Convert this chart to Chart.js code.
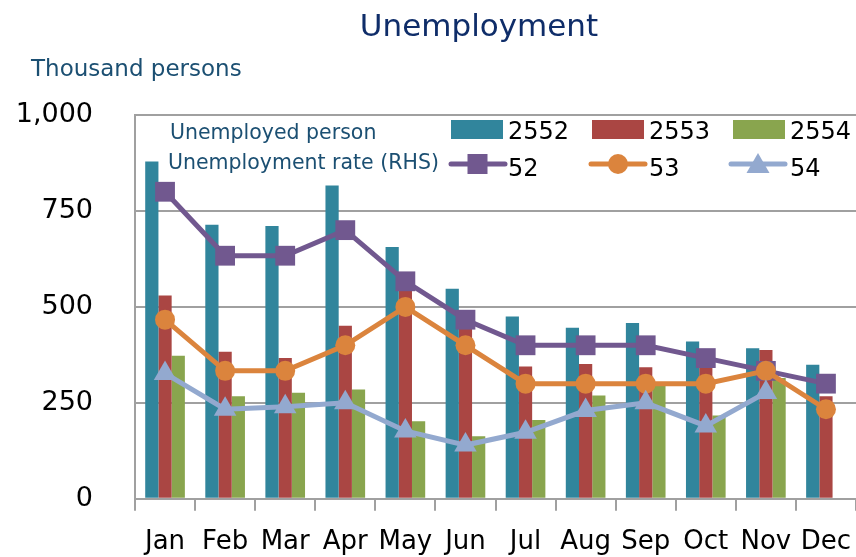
<!DOCTYPE html>
<html>
<head>
<meta charset="utf-8">
<script src="https://cdn.jsdelivr.net/npm/chart.js@4"></script>
<style>
  html, body { margin: 0; padding: 0; background: #fff; }
  #wrap { position: relative; width: 856px; height: 557px; overflow: hidden; font-family: 'DejaVu Sans', sans-serif; }
  #wrap canvas { position: absolute; left: 0; top: 0; }
  .txt { position: absolute; line-height: 1; white-space: nowrap; }
  .sw { position: absolute; }
</style>
</head>
<body>
<div id="wrap">
  <canvas id="unempChart" width="856" height="557"></canvas>

  <div class="txt" style="left:479px; top:10px; font-size:31px; color:#0f2d69; transform:translateX(-50%);">Unemployment</div>
  <div class="txt" style="left:31px; top:57px; font-size:23px; color:#1b4f72;">Thousand persons</div>

  <!-- legend, row 1: bars -->
  <div class="txt" style="left:170px; top:122px; font-size:20.5px; color:#1b4f72;">Unemployed person</div>
  <div class="sw" style="left:451px; top:120px; width:52px; height:19px; background:#31859c;"></div>
  <div class="txt" style="left:508px; top:119px; font-size:24px; color:#000;">2552</div>
  <div class="sw" style="left:592px; top:120px; width:52px; height:19px; background:#aa4643;"></div>
  <div class="txt" style="left:649px; top:119px; font-size:24px; color:#000;">2553</div>
  <div class="sw" style="left:733px; top:120px; width:52px; height:19px; background:#89a54e;"></div>
  <div class="txt" style="left:790px; top:119px; font-size:24px; color:#000;">2554</div>

  <!-- legend, row 2: lines -->
  <div class="txt" style="left:168px; top:152px; font-size:20.5px; color:#1b4f72;">Unemployment rate (RHS)</div>
  <svg class="sw" style="left:448px; top:150px;" width="60" height="28">
    <line x1="3" y1="14" x2="57" y2="14" stroke="#71588f" stroke-width="5" stroke-linecap="round"/>
    <rect x="19.5" y="4" width="20" height="20" fill="#71588f"/>
  </svg>
  <div class="txt" style="left:508px; top:156px; font-size:24px; color:#000;">52</div>
  <svg class="sw" style="left:588px; top:150px;" width="60" height="28">
    <line x1="3" y1="14" x2="57" y2="14" stroke="#db843d" stroke-width="5" stroke-linecap="round"/>
    <circle cx="30" cy="14" r="10" fill="#db843d"/>
  </svg>
  <div class="txt" style="left:649px; top:156px; font-size:24px; color:#000;">53</div>
  <svg class="sw" style="left:728px; top:150px;" width="60" height="28">
    <line x1="3" y1="14" x2="57" y2="14" stroke="#93a9cf" stroke-width="5" stroke-linecap="round"/>
    <polygon points="30,3 41.5,23 18.5,23" fill="#93a9cf"/>
  </svg>
  <div class="txt" style="left:790px; top:156px; font-size:24px; color:#000;">54</div>
</div>

<script>
// months on the x axis
var months = ['Jan', 'Feb', 'Mar', 'Apr', 'May', 'Jun', 'Jul', 'Aug', 'Sep', 'Oct', 'Nov', 'Dec'];

// unemployed persons (thousand), by year B.E.
var persons2552 = [879, 714, 711, 816, 656, 547, 475, 446, 458, 410, 392, 349];
var persons2553 = [530, 383, 367, 451, 546, 460, 345, 351, 343, 350, 388, 267];
var persons2554 = [373, 267, 276, 285, 202, 163, 205, 269, 298, 217, 315, null];

// unemployment rate (%), hidden right-hand axis
var rate52 = [2.4, 1.9, 1.9, 2.1, 1.7, 1.4, 1.2, 1.2, 1.2, 1.1, 1.0, 0.9];
var rate53 = [1.4, 1.0, 1.0, 1.2, 1.5, 1.2, 0.9, 0.9, 0.9, 0.9, 1.0, 0.7];
var rate54 = [0.98, 0.70, 0.72, 0.75, 0.53, 0.42, 0.52, 0.69, 0.75, 0.57, 0.83, null];

// left axis ticks
var leftTicks = [0, 250, 500, 750, 1000];
var rateMax = 3;

var gridGrey = '#a0a0a0';

function barSet(label, data, color) {
    return {
        type: 'bar',
        label: label,
        data: data,
        backgroundColor: color,
        borderWidth: 0,
        yAxisID: 'y',
        order: 10
    };
}

function lineSet(label, data, color, style, radius, order) {
    return {
        type: 'line',
        label: label,
        data: data,
        borderColor: color,
        backgroundColor: color,
        borderWidth: 5,
        pointStyle: style,
        pointRadius: radius,
        pointBackgroundColor: color,
        pointBorderColor: color,
        pointBorderWidth: 0,
        tension: 0,
        spanGaps: false,
        clip: false,
        yAxisID: 'y1',
        order: order
    };
}

new Chart(document.getElementById('unempChart').getContext('2d'), {
    data: {
        labels: months,
        datasets: [
            lineSet('54', rate54, '#93a9cf', 'triangle', 13, 1),
            lineSet('53', rate53, '#db843d', 'circle', 10, 2),
            lineSet('52', rate52, '#71588f', 'rect', 14, 3),
            barSet('2552', persons2552, '#31859c'),
            barSet('2553', persons2553, '#aa4643'),
            barSet('2554', persons2554, '#89a54e')
        ]
    },
    options: {
        responsive: false,
        animation: false,
        devicePixelRatio: 1,
        layout: { autoPadding: false, padding: { top: 115, left: 0, right: 0, bottom: 0 } },
        datasets: {
            bar: { categoryPercentage: 0.66, barPercentage: 1.0 }
        },
        plugins: {
            legend: { display: false },
            tooltip: { enabled: false }
        },
        scales: {
            x: {
                offset: true,
                grid: { display: true, drawOnChartArea: false, drawTicks: true, tickLength: 12, color: gridGrey, lineWidth: 2 },
                border: { display: true, color: gridGrey, width: 2 },
                ticks: { color: '#000', font: { family: 'DejaVu Sans', size: 26 }, padding: 16, maxRotation: 0, autoSkip: false },
                afterFit: function(scale) {
                    scale.height = 57;
                    scale.paddingLeft = 0;
                    scale.paddingRight = 0;
                }
            },
            y: {
                min: 0,
                max: 1000,
                afterBuildTicks: function(scale) {
                    scale.ticks = leftTicks.map(function(v) { return { value: v }; });
                },
                grid: { color: gridGrey, lineWidth: 2, drawTicks: false },
                border: { display: true, color: gridGrey, width: 2 },
                ticks: {
                    color: '#000',
                    font: { family: 'DejaVu Sans', size: 27 },
                    padding: 42,
                    callback: function(v) { return v.toLocaleString('en-US'); }
                },
                afterFit: function(scale) { scale.width = 135; }
            },
            y1: {
                display: false,
                min: 0,
                max: rateMax
            }
        }
    }
});
</script>
</body>
</html>
